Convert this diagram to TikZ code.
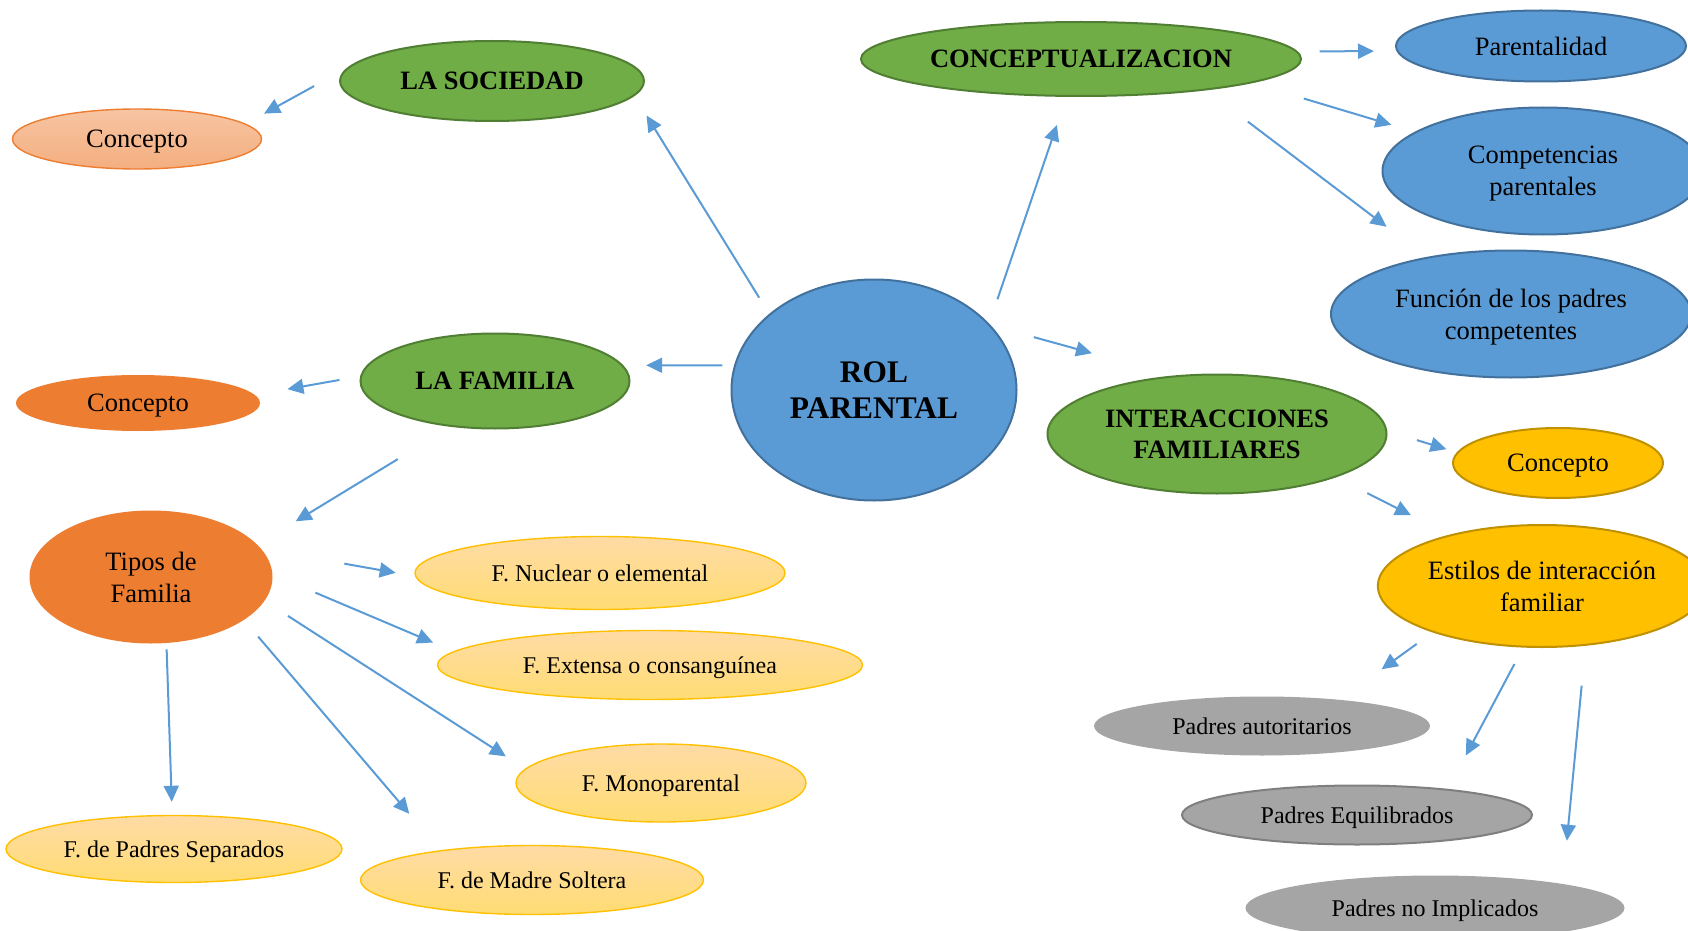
\documentclass[tikz,border=0pt]{standalone}
\usepackage{xcolor}
\usepackage{fontspec}
\setmainfont{Liberation Serif}
\usepackage{tikz}
\usetikzlibrary{shapes.geometric, arrows.meta}

\definecolor{azul}{HTML}{5B9BD5}
\definecolor{azulborde}{HTML}{41719C}
\definecolor{verde}{HTML}{70AD47}
\definecolor{verdeborde}{HTML}{507E32}
\definecolor{naranja}{HTML}{ED7D31}
\definecolor{oro}{HTML}{FFC000}
\definecolor{oroborde}{HTML}{BF9000}
\definecolor{gris}{HTML}{A5A5A5}
\definecolor{grisborde}{HTML}{7F7F7F}

\begin{document}
\begin{tikzpicture}[x=0.5pt, y=-0.5pt,
    nodo/.style={ellipse, inner sep=1pt, align=center, line width=1pt, text depth=0pt,
        font=\fontsize{13.25}{16}\selectfont},
    nodochico/.style={nodo, font=\fontsize{12}{14.5}\selectfont},
    tema/.style={nodo, fill=verde, draw=verdeborde,
        font=\fontsize{13.25}{15.6}\selectfont\bfseries},
    azulnodo/.style={nodo, fill=azul, draw=azulborde},
    tipo/.style={nodochico, top color=yellow!20!orange!35, bottom color=oro!55,
        draw=oro, line width=0.7pt},
    estilo/.style={nodochico, fill=gris},
    flecha/.style={draw=azul, line width=1pt, -{Triangle[length=8pt, width=7.5pt]}}]

    \useasboundingbox (0,0) rectangle (1688,931);

    \node[azulnodo, minimum width=142.5pt, minimum height=110.5pt,
        font=\fontsize{15.7}{18.3}\selectfont\bfseries] (rol) at (874,390) {ROL\\PARENTAL};

    \node[tema, minimum width=152pt, minimum height=40pt] (soc) at (492,81) {LA SOCIEDAD};
    \node[tema, minimum width=134.5pt, minimum height=47.5pt] (fam) at (495,381) {LA FAMILIA};
    \node[tema, minimum width=220pt, minimum height=37pt] (conc) at (1081,59) {CONCEPTUALIZACION};
    \node[tema, minimum width=169.5pt, minimum height=59.5pt] (inter) at (1217,434) {INTERACCIONES\\FAMILIARES};

    \node[nodo, top color=naranja!45, bottom color=naranja!62, draw=naranja, line width=0.7pt,
        minimum width=124.5pt, minimum height=30pt] (csoc) at (137,139) {Concepto};
    \node[nodo, fill=naranja, minimum width=122pt, minimum height=28pt] (cfam) at (138,403) {Concepto};
    \node[nodo, fill=naranja, minimum width=121.5pt, minimum height=66.5pt] (tipos) at (151,577) {Tipos de\\Familia};

    \node[azulnodo, minimum width=145pt, minimum height=35.5pt] (paren) at (1541,46) {Parentalidad};
    \node[azulnodo, minimum width=160.5pt, minimum height=63.5pt] (compet) at (1543,171) {Competencias\\parentales};
    \node[azulnodo, minimum width=180pt, minimum height=63.5pt] (func) at (1511,314) {Función de los padres\\competentes};

    \node[nodo, fill=oro, draw=oroborde, minimum width=105pt, minimum height=35pt] (cint) at (1558,463) {Concepto};
    \node[nodo, fill=oro, draw=oroborde, minimum width=163.5pt, minimum height=61pt] (estilos) at (1542,586) {Estilos de interacción\\familiar};

    \node[tipo, minimum width=185pt, minimum height=36.5pt] (nuc) at (600,573) {F. Nuclear o elemental};
    \node[tipo, minimum width=212.5pt, minimum height=34.5pt] (ext) at (650,665) {F. Extensa o consanguínea};
    \node[tipo, minimum width=145pt, minimum height=39pt] (mono) at (661,783) {F. Monoparental};
    \node[tipo, minimum width=168pt, minimum height=33.5pt] (sep) at (174,849) {F. de Padres Separados};
    \node[tipo, minimum width=171.5pt, minimum height=34.5pt] (madre) at (532,880) {F. de Madre Soltera};

    \node[estilo, minimum width=168pt, minimum height=29.5pt] (auto) at (1262,726) {Padres autoritarios};
    \node[estilo, draw=grisborde, minimum width=175pt, minimum height=29.5pt] (equi) at (1357,815) {Padres Equilibrados};
    \node[estilo, minimum width=189.5pt, minimum height=32.5pt] (noimp) at (1435,908) {Padres no Implicados};

    \draw[flecha, shorten <=9.5pt, shorten >=11.5pt] (rol.144) -- (soc.-6);
    \draw[flecha, shorten <=12.8pt, shorten >=14.8pt] (rol.30) -- (conc.-111);
    \draw[flecha, shorten <=5.9pt, shorten >=11.5pt] (rol.170) -- (fam.7);
    \draw[flecha, shorten <=22.3pt, shorten >=42pt] (rol.29) -- (inter.127);

    \draw[flecha, shorten <=18.5pt, shorten >=10.5pt] (soc.175) -- (csoc.8);
    \draw[flecha, shorten <=10.5pt, shorten >=16pt] (fam.178) -- (cfam.4);
    \draw[flecha, shorten <=31pt, shorten >=22pt] (fam.-134) -- (tipos.17);

    \draw[flecha, shorten <=11pt, shorten >=11.2pt] (conc.2) -- (paren.182);
    \draw[flecha, shorten <=27pt, shorten >=12.2pt] (conc.-8) -- (compet.163);
    \draw[flecha, shorten <=26pt, shorten >=25pt] (conc.-14) -- (func.146);

    \draw[flecha, shorten <=15.5pt, shorten >=5.4pt] (inter.1) -- (cint.174);
    \draw[flecha, shorten <=17.5pt, shorten >=21.5pt] (inter.-20) -- (estilos.151);

    \draw[flecha, shorten <=9.8pt, shorten >=25.4pt] (estilos.-157) -- (auto.19);
    \draw[flecha, shorten <=9.3pt, shorten >=18.9pt] (estilos.-107) -- (equi.16);
    \draw[flecha, shorten <=20pt, shorten >=21.3pt] (estilos.-54) -- (noimp.11);

    \draw[flecha, shorten <=41.5pt, shorten >=9.8pt] (tipos.14) -- (nuc.181);
    \draw[flecha, shorten <=22.8pt, shorten >=11.2pt] (tipos.1) -- (ext.176);
    \draw[flecha, shorten <=13.5pt, shorten >=11.4pt] (tipos.-12) -- (mono.174);
    \draw[flecha, shorten <=10.5pt, shorten >=23.9pt] (tipos.-25) -- (madre.162);
    \draw[flecha, shorten <=2.7pt, shorten >=6.5pt] (tipos.-77) -- (sep.93);
\end{tikzpicture}
\end{document}
